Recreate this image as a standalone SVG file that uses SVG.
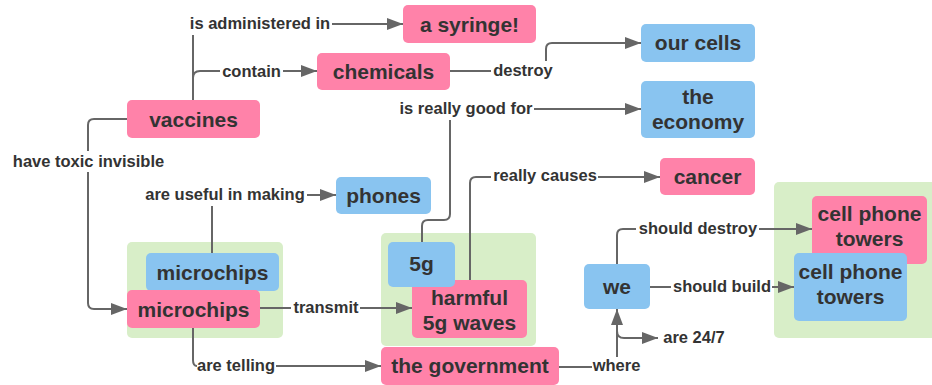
<svg xmlns="http://www.w3.org/2000/svg" width="932" height="385" viewBox="0 0 932 385">
<style>
.pink{fill:#FF82A9}
.blue{fill:#89C4F0}
.grp{fill:#D8EEC8}
.nt{font-family:"Liberation Sans",Arial,sans-serif;font-weight:bold;font-size:21px;fill:#333333;text-anchor:middle}
.lt{font-family:"Liberation Sans",Arial,sans-serif;font-weight:bold;font-size:16.5px;fill:#333333;text-anchor:middle}
.ln{fill:none;stroke:#666666;stroke-width:2}
</style>
<defs>
<marker id="ah" markerUnits="userSpaceOnUse" markerWidth="16" markerHeight="12" refX="16" refY="6" orient="auto">
<path d="M0,0 L16,6 L0,12 z" fill="#666666"/>
</marker>
</defs>
<rect width="932" height="385" fill="#ffffff"/>
<g id="groups">
<rect id="g1" class="grp" x="127" y="242" width="156" height="96" rx="5"/>
<rect id="g2" class="grp" x="381" y="233" width="155" height="113" rx="5"/>
<rect id="g3" class="grp" x="774" y="182" width="170" height="156" rx="5"/>
</g>
<g id="connectors">
<path class="ln" d="M193,100 V35"/>
<path class="ln" d="M332,24 H403" marker-end="url(#ah)"/>
<path class="ln" d="M193,78 Q193,71 200,71 H220"/>
<path class="ln" d="M283,71 H317" marker-end="url(#ah)"/>
<path class="ln" d="M450,71 H491"/>
<path class="ln" d="M546,61 V49 Q546,43 552,43 H641" marker-end="url(#ah)"/>
<path class="ln" d="M422,242 V226 Q422,220 428,220 H444 Q450,220 450,214 V120"/>
<path class="ln" d="M534,109 H641" marker-end="url(#ah)"/>
<path class="ln" d="M470,280 V183 Q470,177 476,177 H491"/>
<path class="ln" d="M598,177 H660" marker-end="url(#ah)"/>
<path class="ln" d="M127,119 H94 Q88,119 88,125 V151"/>
<path class="ln" d="M88,172 V303 Q88,309 94,309 H127" marker-end="url(#ah)"/>
<path class="ln" d="M212,253 V206"/>
<path class="ln" d="M307,195 H336" marker-end="url(#ah)"/>
<path class="ln" d="M260,308 H291"/>
<path class="ln" d="M360,308 H412" marker-end="url(#ah)"/>
<path class="ln" d="M193,328 V360 Q193,366 197,366"/>
<path class="ln" d="M276,366 H381" marker-end="url(#ah)"/>
<path class="ln" d="M559,367 H592"/>
<path class="ln" d="M617,357 V309" marker-end="url(#ah)"/>
<path class="ln" d="M617,331 Q617,338 624,338 H658" marker-end="url(#ah)"/>
<path class="ln" d="M617,264 V235 Q617,229 623,229 H636"/>
<path class="ln" d="M759,229 H812" marker-end="url(#ah)"/>
<path class="ln" d="M650,287 H671"/>
<path class="ln" d="M772,287 H794" marker-end="url(#ah)"/>
<text class="lt" x="260" y="29">is administered in</text>
<text class="lt" x="251.5" y="76.5">contain</text>
<text class="lt" x="523" y="76">destroy</text>
<text class="lt" x="466" y="114">is really good for</text>
<text class="lt" x="545" y="181">really causes</text>
<text class="lt" x="88.5" y="167">have toxic invisible</text>
<text class="lt" x="225" y="200">are useful in making</text>
<text class="lt" x="326" y="313">transmit</text>
<text class="lt" x="236" y="371">are telling</text>
<text class="lt" x="616.5" y="371">where</text>
<text class="lt" x="694" y="343">are 24/7</text>
<text class="lt" x="698" y="234">should destroy</text>
<text class="lt" x="722" y="292">should build</text>
</g>
<g id="vaccines"><rect class="pink" x="127" y="100" width="133" height="38" rx="5"/><text class="nt" x="193.5" y="126.5">vaccines</text></g>
<g id="syringe"><rect class="pink" x="403" y="5" width="133" height="38" rx="5"/><text class="nt" x="469.5" y="31.5">a syringe!</text></g>
<g id="chemicals"><rect class="pink" x="317" y="53" width="133" height="37" rx="5"/><text class="nt" x="383.5" y="78.5">chemicals</text></g>
<g id="ourcells"><rect class="blue" x="641" y="24" width="114" height="38" rx="5"/><text class="nt" x="698" y="50">our cells</text></g>
<g id="economy"><rect class="blue" x="641" y="81" width="114" height="57" rx="5"/><text class="nt" x="698" y="104">the</text><text class="nt" x="698" y="129">economy</text></g>
<g id="cancer"><rect class="pink" x="660" y="158" width="95" height="37" rx="5"/><text class="nt" x="707.5" y="183.5">cancer</text></g>
<g id="phones"><rect class="blue" x="336" y="177" width="95" height="37" rx="5"/><text class="nt" x="383.5" y="202.5">phones</text></g>
<g id="microchips-blue"><rect class="blue" x="146" y="253" width="133" height="38" rx="5"/><text class="nt" x="212.5" y="279.5">microchips</text></g>
<g id="microchips-pink"><rect class="pink" x="127" y="290" width="133" height="38" rx="5"/><text class="nt" x="193.5" y="316.5">microchips</text></g>
<g id="harmful"><rect class="pink" x="412" y="280" width="115" height="58" rx="5"/><text class="nt" x="469.5" y="305">harmful</text><text class="nt" x="469.5" y="330">5g waves</text></g>
<g id="fiveg"><rect class="blue" x="388" y="242" width="67" height="45" rx="5"/><text class="nt" x="421.5" y="271">5g</text></g>
<g id="government"><rect class="pink" x="381" y="347" width="178" height="38" rx="5"/><text class="nt" x="470" y="373">the government</text></g>
<g id="we"><rect class="blue" x="584" y="264" width="66" height="45" rx="5"/><text class="nt" x="617" y="294">we</text></g>
<g id="towers-pink"><rect class="pink" x="812" y="196" width="115" height="68" rx="5"/><text class="nt" x="869.5" y="221">cell phone</text><text class="nt" x="869.5" y="246">towers</text></g>
<g id="towers-blue"><rect class="blue" x="794" y="253" width="113" height="68" rx="5"/><text class="nt" x="850.5" y="279">cell phone</text><text class="nt" x="850.5" y="304">towers</text></g>
</svg>
